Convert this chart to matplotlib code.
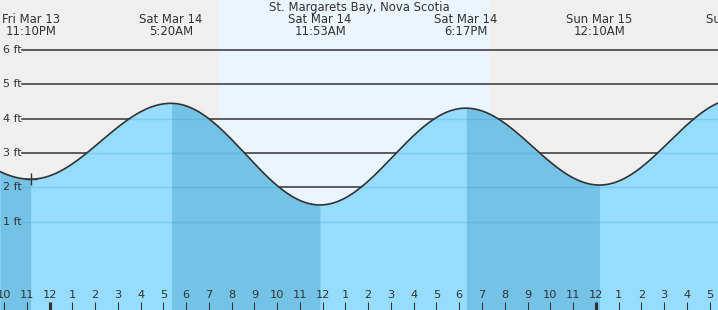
import numpy as np
import matplotlib.pyplot as plt

# tide extremes, hours from Sat Mar 14 00:00
ext_hours = [-7.0, -0.833, 5.333, 11.883, 18.283, 24.167, 30.3]
ext_heights = [4.2, 2.24, 4.45, 1.49, 4.31, 2.07, 4.6]
ext_days = ['Fri Mar 13', 'Fri Mar 13', 'Sat Mar 14', 'Sat Mar 14', 'Sat Mar 14', 'Sun Mar 15', 'Sun Mar 15']
ext_times = ['4:59PM', '11:10PM', '5:20AM', '11:53AM', '6:17PM', '12:10AM', '6:18AM']
sunrise, sunset = 7.44, 19.3
ft_levels = [1, 2, 3, 4, 5, 6]
hour_ticks = list(range(-2, 30))

title = 'St. Margarets Bay, Nova Scotia'
bg = '#efefef'
day = '#eaf5ff'
water = '#96dcfc'
water_dark = '#74c2e6'
txt = '#333333'

xmin, xmax = -2.18, 29.37
ymin, ymax = -1.57, 7.46

# tide curve between extremes (cosine shape between each high/low)
t = np.linspace(xmin, xmax, 800)
h = np.zeros_like(t)
for i in range(len(ext_hours) - 1):
    t0, t1 = ext_hours[i], ext_hours[i + 1]
    h0, h1 = ext_heights[i], ext_heights[i + 1]
    m = (t >= t0) & (t <= t1)
    f = (t[m] - t0) / (t1 - t0)
    h[m] = h0 + (h1 - h0) * (1 - np.cos(np.pi * f)) / 2

fig = plt.figure(figsize=(7.18, 3.10), dpi=100)
ax = fig.add_axes([0, 0, 1, 1])
ax.set_xlim(xmin, xmax)
ax.set_ylim(ymin, ymax)
ax.axis('off')
ax.add_patch(plt.Rectangle((xmin, ymin), xmax - xmin, ymax - ymin, color=bg, zorder=0))
ax.axvspan(sunrise, sunset, color=day, zorder=0.5, lw=0)

# dark grid lines (under water)
xl = xmin + 22 / 22.76
for lv in ft_levels:
    ax.plot([xl, xmax], [lv, lv], color='#333333', lw=1.1, zorder=1)
    ax.text(xmin + 3 / 22.76, lv, f'{lv} ft', color=txt, fontsize=8,
            ha='left', va='center', zorder=6)

poly = ax.fill_between(t, ymin, h, color=water, lw=0, zorder=2)
for i in range(len(ext_hours) - 1):
    if ext_heights[i] > ext_heights[i + 1]:
        m = (t >= ext_hours[i]) & (t <= ext_hours[i + 1])
        ax.fill_between(t[m], ymin, h[m], color=water_dark, lw=0, zorder=2.1)

# faint lines over the water only
for lv in ft_levels:
    ln, = ax.plot([xl, xmax], [lv, lv], color='#3a9fd0', lw=1, alpha=0.3, zorder=3)
    ln.set_clip_path(poly.get_paths()[0], ax.transData)

ax.plot(t, h, color='#333333', lw=1.2, zorder=4)
ax.plot(ext_hours[1], ext_heights[1], marker='+', color='#333333', ms=9, mew=1, zorder=5)

ax.text(0.5, 1 - 8 / 310, title, transform=ax.transAxes, ha='center', va='center',
        fontsize=8.4, color=txt)
for hr, d, tm in zip(ext_hours, ext_days, ext_times):
    if xmin - 2 < hr < xmax + 2:
        ax.text(hr, ymax - 19 / 34.3, d, ha='center', va='center', fontsize=8.4, color=txt)
        ax.text(hr, ymax - 31 / 34.3, tm, ha='center', va='center', fontsize=8.4, color=txt)

for hr in hour_ticks:
    lab = (hr % 12) or 12
    ax.text(hr, ymin + 15 / 34.3, str(lab), ha='center', va='center', fontsize=8.2, color=txt)
    w = 3.0 if hr % 24 == 0 else 1.0
    ax.plot([hr, hr], [ymin, ymin + 8 / 34.3], color='#333333', lw=w * 0.75,
            solid_capstyle='butt', zorder=6)

fig.savefig('out.png', dpi=100)
